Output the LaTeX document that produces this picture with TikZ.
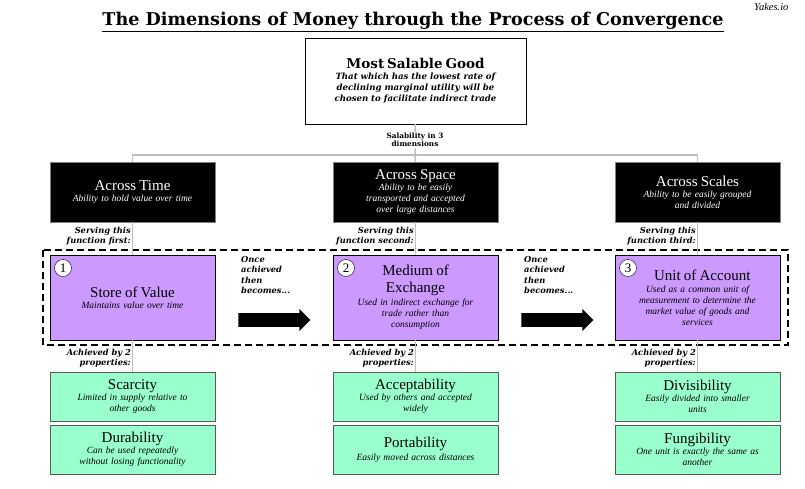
\documentclass[tikz,border=0pt]{standalone}
\usepackage{fontspec}
\setmainfont{Liberation Serif}
\newfontfamily\heavy{DejaVu Serif}
\usetikzlibrary{shapes.arrows}
\newcommand{\ttl}[1]{{\fontsize{15}{17}\selectfont\upshape #1}}
\begin{document}
\begin{tikzpicture}[x=1pt,y=-1pt,
 box/.style={minimum width=165pt,align=center,text width=162pt,inner sep=1pt,font=\itshape\fontsize{9.5}{11}\selectfont},
 blk/.style={box,draw=gray,fill=black,text=white,minimum height=60pt},
 pur/.style={box,draw=black,fill=purpleC,minimum height=85pt},
 grn/.style={box,draw=gray!70!black,fill=greenC,minimum height=49pt},
 lbl/.style={font=\heavy\bfseries\itshape\fontsize{8.3}{9.5}\selectfont,align=right,anchor=east,inner sep=0pt},
 num/.style={circle,draw=black,fill=white,inner sep=0.5pt,minimum size=17pt,font=\fontsize{13}{13}\selectfont},
 con/.style={draw=gray!50,line width=1.5pt},
 bigar/.style={single arrow,fill=black,minimum height=72pt,minimum width=22pt,single arrow head extend=2pt,inner sep=3pt}]
\definecolor{purpleC}{HTML}{CC99FF}
\definecolor{greenC}{HTML}{99FFCC}
\useasboundingbox (0,0) rectangle (805,488);
\node[font=\itshape\fontsize{10.5}{10}\selectfont,anchor=east] (yk) at (792,7) {Yakes.io};
\node[font=\heavy\bfseries\fontsize{17.6}{18}\selectfont] (title) at (413,22) {\underline{The Dimensions of Money through the Process of Convergence}};
\node[draw=black,minimum width=219pt,minimum height=86pt,align=center,text width=214pt,font=\heavy\bfseries\itshape\fontsize{8.6}{11}\selectfont] (top) at (415.5,81)
 {{\upshape\fontsize{13.5}{15}\selectfont Most Salable Good}\\That which has the lowest rate of\\declining marginal utility will be\\chosen to facilitate indirect trade};
\coordinate (split) at (415,155);
\node[fill=white,font=\heavy\bfseries\fontsize{7.3}{8.5}\selectfont,align=center,inner sep=1pt] (sal) at (415,140) {Salability in 3\\dimensions};
\node[blk] (t) at (132.5,192) {\ttl{Across Time}\\Ability to hold value over time};
\node[blk] (s) at (415.5,192) {\ttl{Across Space}\\Ability to be easily\\transported and accepted\\over large distances};
\node[blk] (c) at (697.5,192) {\ttl{Across Scales}\\Ability to be easily grouped\\and divided};
\draw[con] (top.south) -- (sal.north) (sal.south) -- (split);
\draw[con] (t.north) -- (132.5,155) -- (697.5,155) -- (c.north);
\draw[con] (split) -- (s.north);
\node[pur] (p1) at (132.5,297.5) {\ttl{Store of Value}\\Maintains value over time};
\node[pur] (p2) at (415.5,297.5) {\ttl{Medium of}\\[6pt]\ttl{Exchange}\\[2pt]Used in indirect exchange for\\trade rather than\\consumption};
\node[pur] (p3) at (697.5,297.5) {\ttl{\ \ \ Unit of Account}\\[1pt]Used as a common unit of\\measurement to determine the\\market value of goods and\\services};
\node[num] (n1) at (63,268) {1};
\node[num] (n2) at (346,268) {2};
\node[num] (n3) at (628,268) {3};
\draw[black,line width=2pt,dash pattern=on 7pt off 4pt] (43,250) rectangle (788,345);
\draw[con] (t.south) -- (p1.north) (s.south) -- (p2.north) (c.south) -- (p3.north);
\node[lbl] (l1) at (131,236) {Serving this\\function first:};
\node[lbl] (l2) at (414,236) {Serving this\\function second:};
\node[lbl] (l3) at (696,236) {Serving this\\function third:};
\node[font=\heavy\bfseries\itshape\fontsize{8.3}{10.5}\selectfont,align=left,anchor=north west,inner sep=0pt] (o1) at (241,256) {Once\\achieved\\then\\becomes...};
\node[font=\heavy\bfseries\itshape\fontsize{8.3}{10.5}\selectfont,align=left,anchor=north west,inner sep=0pt] (o2) at (524,256) {Once\\achieved\\then\\becomes...};
\node[bigar] (a1) at (271,320) {};
\node[bigar] (a2) at (554,320) {};
\node[grn] (g1) at (132.5,396.5) {\ttl{Scarcity}\\Limited in supply relative to\\other goods};
\node[grn] (g2) at (132.5,449.5) {\ttl{Durability}\\Can be used repeatedly\\without losing functionality};
\node[grn] (g3) at (415.5,396.5) {\ttl{Acceptability}\\Used by others and accepted\\widely};
\node[grn] (g4) at (415.5,449.5) {\ttl{Portability}\\[2pt]Easily moved across distances};
\node[grn] (g5) at (697.5,396.5) {\ttl{Divisibility}\\Easily divided into smaller\\units};
\node[grn] (g6) at (697.5,449.5) {\ttl{Fungibility}\\One unit is exactly the same as\\another};
\draw[con] (p1.south) -- (g1.north) (p2.south) -- (g3.north) (p3.south) -- (g5.north);
\node[lbl] (b1) at (131,358) {Achieved by 2\\properties:};
\node[lbl] (b2) at (414,358) {Achieved by 2\\properties:};
\node[lbl] (b3) at (696,358) {Achieved by 2\\properties:};
\end{tikzpicture}
\end{document}
